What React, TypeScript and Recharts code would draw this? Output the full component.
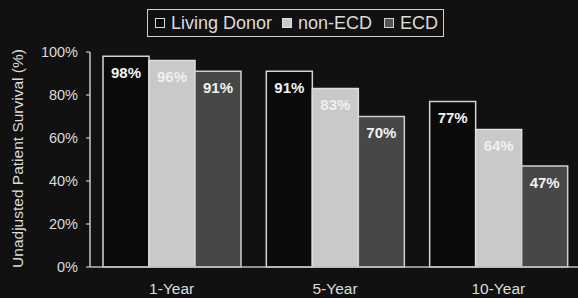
import React from "react";
import { BarChart, Bar, XAxis, YAxis, LabelList } from "recharts";

const categories = ["1-Year", "5-Year", "10-Year"];
const livingDonor = [98, 91, 77];
const nonECD = [96, 83, 64];
const ecd = [91, 70, 47];
const yTicks = [0, 20, 40, 60, 80, 100];

const data = categories.map((name, i) => ({
  name,
  ld: livingDonor[i],
  non: nonECD[i],
  ecd: ecd[i],
}));

const FONT = "'Liberation Sans', Arial, Helvetica, sans-serif";
const BG = "#111111";
const TEXT = "#dcdcdc";

const YLabel = (props: any) => {
  const vb = props.viewBox || { x: 0, y: 0, width: 0, height: 0 };
  const cx = vb.x + 17;
  const cy = vb.y + vb.height / 2 - 1;
  return (
    <text
      x={cx}
      y={cy}
      transform={`rotate(-90, ${cx}, ${cy})`}
      textAnchor="middle"
      dominantBaseline="central"
      fill={TEXT}
      fontSize={15.5}
      fontFamily={FONT}
    >
      Unadjusted Patient Survival (%)
    </text>
  );
};

const Swatch = ({ fill, border }: { fill: string; border: string }) => (
  <span
    style={{
      display: "inline-block",
      width: 8,
      height: 8,
      background: fill,
      border: `1.5px solid ${border}`,
      marginRight: 6,
    }}
  />
);

export default function App() {
  return (
    <div
      style={{
        position: "absolute",
        left: 0,
        top: 0,
        width: 578,
        height: 298,
        overflow: "hidden",
        background: BG,
        fontFamily: FONT,
      }}
    >
      <BarChart
        width={600}
        height={298}
        data={data}
        margin={{ top: 52, right: 20, bottom: 0, left: 0 }}
        barCategoryGap={13}
        barGap={0}
      >
        <XAxis
          xAxisId="grid"
          type="number"
          domain={[0, 3]}
          allowDataOverflow
          ticks={[1, 2]}
          tick={false}
          axisLine={false}
          tickLine={{ stroke: "#c8c8c8", strokeWidth: 1.2 }}
          tickSize={4}
          height={0}
        />
        <XAxis
          xAxisId="cat"
          dataKey="name"
          type="category"
          axisLine={{ stroke: "#bdbdbd", strokeWidth: 1.5 }}
          tickLine={false}
          tickSize={6}
          tickMargin={10}
          height={31}
          tick={{ fill: TEXT, fontSize: 15.5, fontFamily: FONT }}
        />
        <YAxis
          width={90}
          domain={[0, 100]}
          ticks={yTicks}
          interval={0}
          tickFormatter={(v: number) => `${v}%`}
          axisLine={{ stroke: "#c8c8c8", strokeWidth: 1.5 }}
          tickLine={{ stroke: "#c8c8c8", strokeWidth: 1.2 }}
          tickSize={4}
          tickMargin={8}
          tick={{ fill: TEXT, fontSize: 14.5, fontFamily: FONT }}
          label={<YLabel />}
        />
        <Bar
          xAxisId="cat"
          dataKey="ld"
          fill="#0a0a0a"
          stroke="#d4d4d4"
          strokeWidth={1.5}
          isAnimationActive={false}
        >
          <LabelList
            dataKey="ld"
            position="insideTop"
            offset={11}
            formatter={(v: any) => `${v}%`}
            fill="#f2f2f2"
            fontSize={15}
            fontWeight="bold"
            fontFamily={FONT}
          />
        </Bar>
        <Bar
          xAxisId="cat"
          dataKey="non"
          fill="#c9c9c9"
          stroke="#dedede"
          strokeWidth={1.5}
          isAnimationActive={false}
        >
          <LabelList
            dataKey="non"
            position="insideTop"
            offset={11}
            formatter={(v: any) => `${v}%`}
            fill="#f0f0f0"
            fontSize={15}
            fontWeight="bold"
            fontFamily={FONT}
          />
        </Bar>
        <Bar
          xAxisId="cat"
          dataKey="ecd"
          fill="#474747"
          stroke="#cfcfcf"
          strokeWidth={1.5}
          isAnimationActive={false}
        >
          <LabelList
            dataKey="ecd"
            position="insideTop"
            offset={11}
            formatter={(v: any) => `${v}%`}
            fill="#f2f2f2"
            fontSize={15}
            fontWeight="bold"
            fontFamily={FONT}
          />
        </Bar>
      </BarChart>
      <div
        style={{
          position: "absolute",
          left: 147,
          top: 9,
          width: 288,
          height: 26,
          border: "1.5px solid #cfcfcf",
          display: "flex",
          alignItems: "center",
          paddingLeft: 7,
          boxSizing: "content-box",
          color: TEXT,
          fontSize: 18,
          lineHeight: "26px",
          whiteSpace: "nowrap",
        }}
      >
        <Swatch fill="#0a0a0a" border="#d8d8d8" />
        <span style={{ marginRight: 10 }}>Living Donor</span>
        <Swatch fill="#c9c9c9" border="#e0e0e0" />
        <span style={{ marginRight: 12 }}>non-ECD</span>
        <Swatch fill="#555555" border="#cfcfcf" />
        <span>ECD</span>
      </div>
    </div>
  );
}
